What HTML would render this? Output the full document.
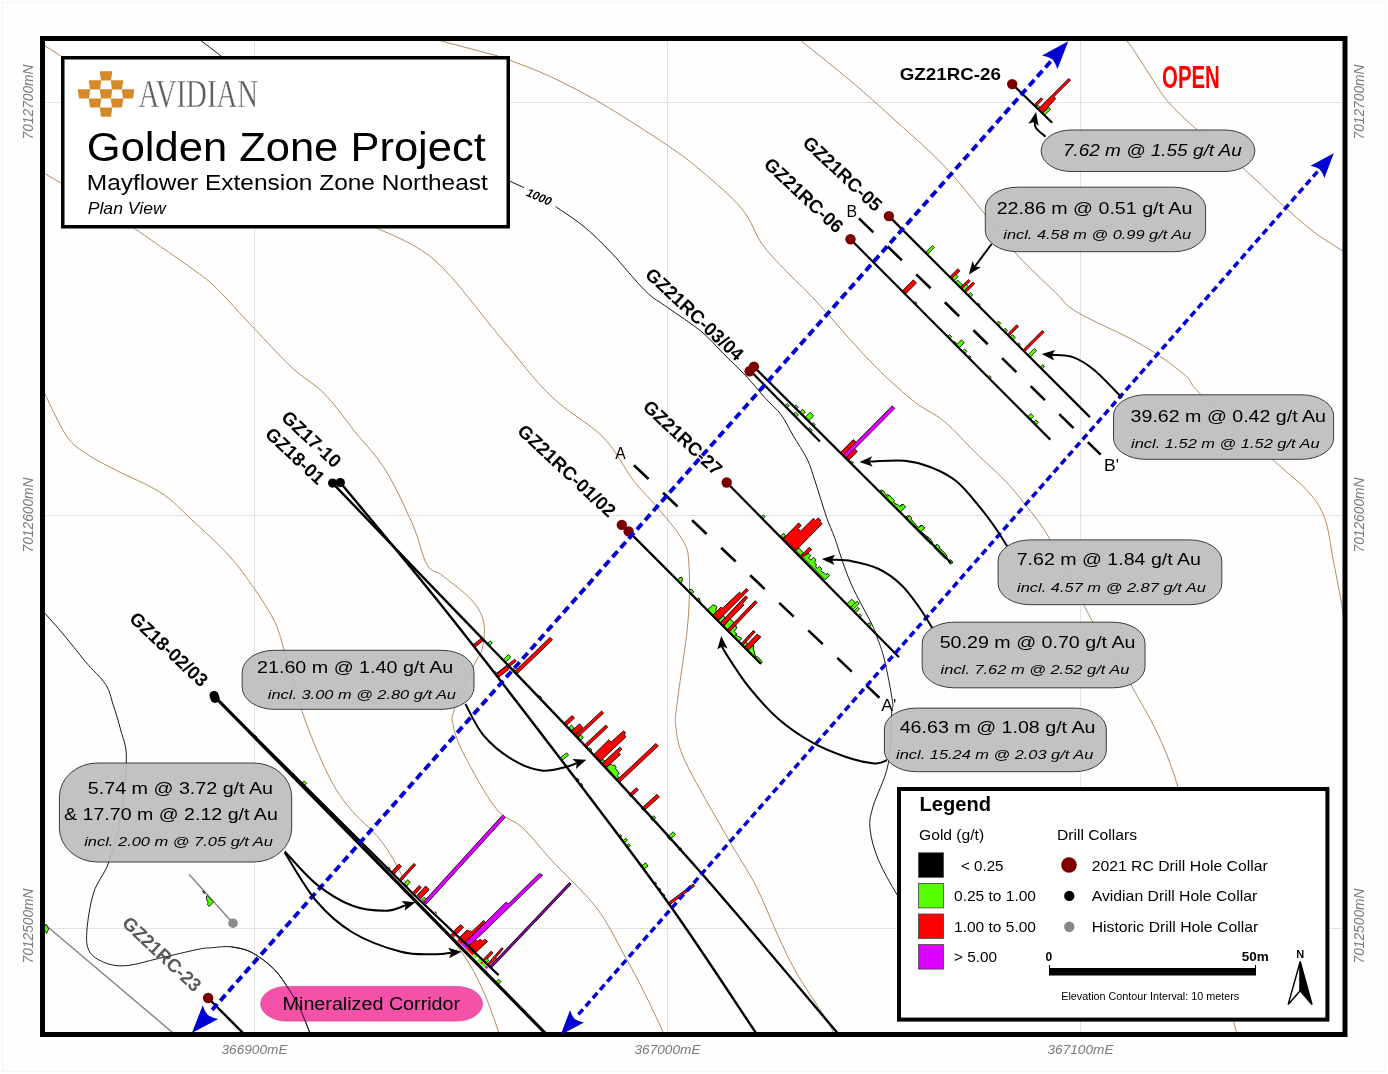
<!DOCTYPE html><html><head><meta charset="utf-8"><style>html,body{margin:0;padding:0;background:#fff;width:1388px;height:1074px;overflow:hidden}</style></head><body><svg width="1388" height="1074" viewBox="0 0 1388 1074" style="position:absolute;left:0;top:0;will-change:transform">
<rect x="0" y="0" width="1388" height="1074" fill="#fefefe"/>
<rect x="2.5" y="2.5" width="1383" height="1069" fill="none" stroke="#f4f4f4" stroke-width="1"/>
<defs><clipPath id="mapclip"><rect x="42" y="38" width="1303" height="997"/></clipPath></defs>
<g clip-path="url(#mapclip)">
<line x1="254.5" y1="36" x2="254.5" y2="1037" stroke="#e2e2e2" stroke-width="1"/>
<line x1="667.5" y1="36" x2="667.5" y2="1037" stroke="#e2e2e2" stroke-width="1"/>
<line x1="1080.5" y1="36" x2="1080.5" y2="1037" stroke="#e2e2e2" stroke-width="1"/>
<line x1="40" y1="102.5" x2="1347" y2="102.5" stroke="#e2e2e2" stroke-width="1"/>
<line x1="40" y1="515.5" x2="1347" y2="515.5" stroke="#e2e2e2" stroke-width="1"/>
<line x1="40" y1="928.5" x2="1347" y2="928.5" stroke="#e2e2e2" stroke-width="1"/>
<path d="M42.0,44.0 L61.0,56.0" stroke="#b38b62" stroke-width="1.0" fill="none" />
<path d="M374.5,227.0 C384.5,232.5 413.6,241.7 434.5,260.0 C455.4,278.3 480.7,314.2 500.0,336.8 C519.3,359.4 533.1,378.7 550.3,395.5 C567.5,412.3 589.5,423.3 603.3,437.4 C617.1,451.5 624.6,469.0 633.0,480.0 C641.4,491.0 645.6,493.5 653.9,503.5 C662.2,513.5 676.8,529.6 682.6,540.0 C688.5,550.4 688.1,552.1 689.0,566.0 C689.9,579.9 689.8,600.8 687.8,623.4 C685.8,646.0 679.3,684.2 677.3,701.6 C675.3,719.0 674.6,717.6 676.0,727.7 C677.4,737.8 677.1,744.0 685.7,762.4 C694.3,780.8 716.0,817.3 727.6,837.8 C739.2,858.3 747.2,869.0 755.6,885.3 C764.0,901.6 771.0,920.7 778.0,935.6 C785.0,950.5 789.1,960.3 797.5,974.7 C805.9,989.1 822.1,1012.0 828.2,1022.2 C834.3,1032.4 833.0,1033.7 834.0,1036.0" stroke="#b38b62" stroke-width="1.0" fill="none" />
<path d="M42.0,172.0 L61.0,183.0" stroke="#b38b62" stroke-width="1.0" fill="none" />
<path d="M133.3,227.7 C143.0,234.4 177.4,258.0 191.3,268.1 C205.2,278.2 206.0,278.2 216.5,288.3 C227.0,298.4 241.7,315.4 254.3,328.6 C266.9,341.8 280.3,356.8 292.1,367.7 C303.9,378.6 314.4,383.5 324.9,394.2 C335.4,404.9 345.1,419.4 355.2,432.0 C365.3,444.6 375.8,454.5 385.4,470.0 C395.0,485.5 406.0,509.2 412.9,525.0 C419.8,540.8 421.8,556.0 426.9,564.5 C431.9,573.0 435.8,570.3 443.2,576.2 C450.6,582.1 464.8,592.4 471.5,600.0 C478.2,607.6 481.8,613.7 483.6,621.8 C485.4,629.9 484.0,641.1 482.4,648.4 C480.8,655.6 478.5,655.2 473.9,665.3 C469.2,675.4 457.9,698.8 454.5,708.9 C451.1,719.0 451.7,718.1 453.3,725.8 C454.9,733.5 457.1,741.2 464.2,754.9 C471.3,768.6 486.0,796.0 495.7,808.1 C505.4,820.2 513.0,818.9 522.3,827.5 C531.6,836.1 539.0,846.6 551.3,860.0 C563.6,873.4 584.1,891.8 596.3,907.6 C608.5,923.5 616.4,941.1 624.3,955.1 C632.2,969.1 637.0,978.0 643.8,991.5 C650.6,1005.0 661.5,1028.6 665.0,1036.0" stroke="#b38b62" stroke-width="1.0" fill="none" />
<path d="M42.0,388.0 C46.1,396.0 58.9,424.7 66.5,435.8 C74.2,446.9 79.7,449.0 87.9,454.7 C96.1,460.4 103.4,463.6 115.6,470.0 C127.8,476.4 148.4,484.6 161.0,492.8 C173.6,501.0 180.0,508.8 191.3,519.3 C202.7,529.8 218.6,544.2 229.1,555.8 C239.6,567.3 246.7,577.7 254.3,588.6 C261.9,599.5 269.4,610.9 274.5,621.4 C279.6,631.9 279.5,635.2 284.6,651.6 C289.7,668.0 297.4,698.6 305.1,720.0 C312.8,741.4 322.9,764.8 330.8,780.0 C338.7,795.2 344.9,802.2 352.6,811.5 C360.3,820.8 370.0,827.6 376.8,835.7 C383.6,843.8 387.2,849.0 393.7,859.9 C400.1,870.8 409.4,891.7 415.5,901.0 C421.6,910.3 423.6,908.6 430.0,915.5 C436.4,922.4 446.9,932.8 454.2,942.1 C461.5,951.4 468.0,961.1 473.6,971.2 C479.2,981.3 483.7,991.9 488.1,1002.7 C492.5,1013.5 498.0,1030.5 500.0,1036.0" stroke="#b38b62" stroke-width="1.0" fill="none" />
<path d="M430.0,38.0 L498.0,56.0" stroke="#b38b62" stroke-width="1.0" fill="none" />
<path d="M510.0,60.3 C516.7,63.0 535.2,69.5 550.4,76.6 C565.5,83.7 581.6,91.8 600.9,103.1 C620.2,114.4 649.6,133.3 666.4,144.7 C683.2,156.0 689.1,160.5 701.7,171.2 C714.3,181.9 731.9,196.8 742.0,209.0 C752.1,221.2 754.7,233.9 762.2,244.3 C769.7,254.8 778.0,262.4 786.8,271.7 C795.6,281.0 801.3,285.3 815.0,300.0 C828.7,314.7 852.8,343.3 869.0,360.0 C885.2,376.7 899.6,389.8 912.1,400.0 C924.6,410.2 933.9,412.8 944.3,421.4 C954.7,430.0 964.3,441.6 974.3,451.4 C984.3,461.2 996.3,471.7 1004.3,480.0 C1012.3,488.3 1014.7,491.3 1022.2,501.0 C1029.7,510.7 1037.5,517.9 1049.3,538.2 C1061.1,558.5 1079.8,598.6 1093.3,622.9 C1106.8,647.2 1116.5,656.4 1130.6,683.8 C1144.7,711.2 1160.8,730.8 1178.0,787.1 C1195.2,843.4 1223.2,980.1 1233.7,1021.6 C1244.2,1063.1 1239.8,1033.6 1241.0,1036.0" stroke="#b38b62" stroke-width="1.0" fill="none" />
<path d="M795.0,36.0 C804.2,43.4 834.0,66.9 850.0,80.4 C866.0,93.9 875.9,102.9 891.3,116.9 C906.7,130.9 926.8,147.8 942.6,164.2 C958.4,180.6 974.1,201.0 986.0,215.5 C997.9,230.0 1002.1,238.1 1013.7,251.0 C1025.3,263.9 1045.1,282.6 1055.7,292.8 C1066.3,303.0 1063.0,303.6 1077.1,312.1 C1091.2,320.7 1122.7,333.7 1140.5,344.1 C1158.3,354.5 1174.0,365.9 1184.1,374.3 C1194.2,382.7 1185.8,379.9 1200.9,394.4 C1216.0,408.9 1256.7,445.2 1274.6,461.4 C1292.5,477.6 1299.7,482.1 1308.1,491.6 C1316.5,501.1 1320.6,507.0 1324.8,518.4 C1329.0,529.8 1330.3,545.1 1333.2,560.0 C1336.1,574.9 1340.2,594.3 1342.3,607.6 C1344.4,620.9 1345.4,634.6 1346.0,640.0" stroke="#b38b62" stroke-width="1.0" fill="none" />
<path d="M1114.0,36.0 C1116.1,36.7 1120.1,33.0 1126.6,40.4 C1133.1,47.8 1146.2,70.0 1153.2,80.4 C1160.2,90.8 1161.4,94.3 1168.8,102.6 C1176.2,110.9 1185.0,119.2 1197.6,130.3 C1210.2,141.4 1230.5,157.2 1244.2,169.2 C1257.9,181.2 1268.2,192.1 1279.7,202.4 C1291.2,212.8 1302.0,222.9 1313.0,231.3 C1324.0,239.7 1340.5,249.4 1346.0,253.0" stroke="#b38b62" stroke-width="1.0" fill="none" />
<path d="M195.0,36.0 L221.0,56.0" stroke="#1a1a1a" stroke-width="1.0" fill="none" />
<path d="M510.0,181.3 L524.0,187.6" stroke="#1a1a1a" stroke-width="1.0" fill="none" />
<path d="M555.5,206.5 C560.2,209.8 574.4,218.7 583.8,226.5 C593.2,234.3 601.5,242.4 611.7,253.1 C621.9,263.8 635.9,281.7 645.2,290.8 C654.5,299.9 658.3,300.8 667.6,307.5 C676.9,314.2 691.7,323.5 701.0,331.2 C710.3,338.9 716.0,346.2 723.4,353.6 C730.8,361.0 738.3,367.9 745.3,375.3 C752.3,382.8 759.4,391.7 765.4,398.3 C771.4,404.9 776.6,408.6 781.2,414.9 C785.9,421.2 789.0,428.5 793.3,435.9 C797.6,443.3 803.6,451.8 807.2,459.1 C810.8,466.5 812.4,473.2 814.7,480.0 C817.0,486.8 819.0,493.6 821.0,500.0 C823.0,506.4 824.8,512.4 827.0,518.6 C829.2,524.8 832.0,530.4 834.5,537.2 C837.0,544.0 839.4,552.5 841.9,559.6 C844.4,566.7 846.5,573.3 849.4,580.0 C852.2,586.7 855.2,592.6 859.0,600.0 C862.8,607.4 869.0,618.3 872.0,624.5 C875.0,630.7 874.9,631.2 877.0,637.1 C879.1,643.0 881.9,649.2 884.5,660.0 C887.1,670.8 891.3,692.7 892.5,701.6 C893.7,710.5 892.4,703.0 891.6,713.5 C890.9,724.0 891.1,749.2 888.0,764.8 C884.9,780.4 875.9,796.2 872.9,807.0 C869.9,817.8 869.2,820.5 870.1,829.4 C871.0,838.2 873.8,848.9 878.5,860.1 C883.2,871.3 891.2,884.9 898.1,896.5 C905.0,908.1 916.4,924.4 920.0,930.0" stroke="#1a1a1a" stroke-width="1.0" fill="none" />
<path d="M42.0,610.0 C45.9,614.4 58.0,627.9 65.2,636.5 C72.4,645.1 78.7,653.7 85.4,661.7 C92.1,669.7 101.0,677.2 105.6,684.4 C110.2,691.5 110.6,697.0 113.1,704.6 C115.6,712.2 118.5,721.0 120.7,730.0 C122.9,739.0 126.5,743.7 126.4,758.7 C126.3,773.7 123.0,802.6 120.0,820.0 C117.0,837.4 112.9,850.9 108.5,863.0 C104.1,875.1 97.2,881.3 93.6,892.8 C90.0,904.3 87.4,921.9 86.8,931.8 C86.2,941.7 86.6,947.1 90.0,952.4 C93.4,957.7 101.1,961.4 107.4,963.6 C113.7,965.8 119.4,966.4 128.0,965.5 C136.6,964.6 147.5,961.0 159.2,958.3 C170.8,955.6 189.1,951.2 197.9,949.4 C206.8,947.6 206.8,948.1 212.3,947.7 C217.8,947.3 224.5,946.0 231.1,946.8 C237.7,947.6 244.5,948.6 251.7,952.4 C258.9,956.1 267.9,963.0 274.2,969.3 C280.4,975.5 284.9,983.3 289.2,989.9 C293.5,996.5 296.4,1000.9 300.0,1008.6 C303.6,1016.3 309.2,1031.4 311.0,1036.0" stroke="#1a1a1a" stroke-width="1.0" fill="none" />
<text x="539" y="197" font-family='"Liberation Sans", sans-serif' font-size="12" font-weight="bold" font-style="italic" text-anchor="middle" transform="rotate(23 539.5 197)" dy="0.35em" textLength="26" lengthAdjust="spacingAndGlyphs">1000</text>
<path d="M42.0,922.0 L171.1,1031.3 L177.0,1036.0" stroke="#8a8a8a" stroke-width="1.5" fill="none" />
<path d="M233.0,923.2 L189.0,874.3" stroke="#8a8a8a" stroke-width="1.5" fill="none" />
<path d="M1034.3,104.6 L1041.2,97.7 L1042.9,99.4 L1036.0,106.2 Z" fill="#ff0000" stroke="#000" stroke-width="0.8"/>
<path d="M1036.0,106.2 L1038.0,105.2 L1039.8,106.9 L1037.8,108.6 Z" fill="#55ff00" stroke="#000" stroke-width="0.8"/>
<path d="M1038.6,108.6 L1068.6,78.6 L1070.6,80.1 L1054.2,96.5 L1055.6,98.8 L1042.9,112.9 Z" fill="#ff0000" stroke="#000" stroke-width="0.8"/>
<path d="M1042.9,112.9 L1049.0,107.2 L1050.4,109.2 L1044.7,115.0 Z" fill="#55ff00" stroke="#000" stroke-width="0.8"/>
<path d="M925.4,252.6 L927.3,254.5 L934.4,247.3 L932.6,245.5 Z" fill="#55ff00" stroke="#000" stroke-width="0.8" stroke-linejoin="miter"/>
<path d="M949.7,276.9 L951.9,279.1 L960.0,271.0 L957.8,268.8 Z" fill="#ff0000" stroke="#000" stroke-width="0.8" stroke-linejoin="miter"/>
<path d="M951.6,278.8 L953.7,280.9 L958.1,276.6 L955.9,274.4 Z" fill="#55ff00" stroke="#000" stroke-width="0.8" stroke-linejoin="miter"/>
<path d="M955.2,282.4 L960.1,287.3 L962.5,285.0 L957.5,280.0 Z" fill="#55ff00" stroke="#000" stroke-width="0.8" stroke-linejoin="miter"/>
<path d="M960.3,287.5 L962.1,289.3 L970.2,281.2 L968.4,279.4 Z" fill="#ff0000" stroke="#000" stroke-width="0.8" stroke-linejoin="miter"/>
<path d="M961.8,289.0 L963.9,291.1 L968.5,286.6 L966.3,284.4 Z" fill="#55ff00" stroke="#000" stroke-width="0.8" stroke-linejoin="miter"/>
<path d="M963.9,291.1 L965.6,292.8 L974.7,283.8 L972.9,282.0 Z" fill="#ff0000" stroke="#000" stroke-width="0.8" stroke-linejoin="miter"/>
<path d="M967.8,295.0 L970.2,297.4 L972.7,294.9 L970.3,292.5 Z" fill="#55ff00" stroke="#000" stroke-width="0.8" stroke-linejoin="miter"/>
<path d="M977.3,304.5 L979.0,306.2 L980.3,305.0 L978.5,303.2 Z" fill="#55ff00" stroke="#000" stroke-width="0.8" stroke-linejoin="miter"/>
<path d="M996.3,323.5 L998.5,325.7 L1000.8,323.4 L998.6,321.2 Z" fill="#55ff00" stroke="#000" stroke-width="0.8" stroke-linejoin="miter"/>
<path d="M1003.1,330.3 L1005.5,332.7 L1007.6,330.6 L1005.2,328.2 Z" fill="#55ff00" stroke="#000" stroke-width="0.8" stroke-linejoin="miter"/>
<path d="M1007.2,334.4 L1008.9,336.1 L1018.5,326.6 L1016.7,324.8 Z" fill="#ff0000" stroke="#000" stroke-width="0.8" stroke-linejoin="miter"/>
<path d="M1010.0,337.2 L1012.8,340.0 L1015.3,337.5 L1012.5,334.7 Z" fill="#55ff00" stroke="#000" stroke-width="0.8" stroke-linejoin="miter"/>
<path d="M1017.2,344.4 L1019.0,346.2 L1020.4,344.8 L1018.6,343.0 Z" fill="#55ff00" stroke="#000" stroke-width="0.8" stroke-linejoin="miter"/>
<path d="M1022.8,350.0 L1024.6,351.8 L1044.2,332.2 L1042.4,330.4 Z" fill="#ff0000" stroke="#000" stroke-width="0.8" stroke-linejoin="miter"/>
<path d="M1027.8,355.0 L1030.0,357.2 L1036.6,350.6 L1034.4,348.4 Z" fill="#55ff00" stroke="#000" stroke-width="0.8" stroke-linejoin="miter"/>
<path d="M1040.1,367.3 L1041.9,369.1 L1044.6,366.4 L1042.8,364.6 Z" fill="#55ff00" stroke="#000" stroke-width="0.8" stroke-linejoin="miter"/>
<path d="M902.1,291.0 L905.3,294.2 L916.5,283.0 L913.3,279.8 Z" fill="#ff0000" stroke="#000" stroke-width="0.8" stroke-linejoin="miter"/>
<path d="M913.8,302.7 L915.6,304.5 L916.9,303.2 L915.1,301.4 Z" fill="#55ff00" stroke="#000" stroke-width="0.8" stroke-linejoin="miter"/>
<path d="M947.5,336.6 L949.6,338.7 L951.7,336.7 L949.5,334.5 Z" fill="#55ff00" stroke="#000" stroke-width="0.8" stroke-linejoin="miter"/>
<path d="M953.4,342.4 L955.5,344.5 L956.7,343.4 L954.5,341.2 Z" fill="#55ff00" stroke="#000" stroke-width="0.8" stroke-linejoin="miter"/>
<path d="M956.1,345.2 L958.9,348.0 L964.3,342.6 L961.5,339.8 Z" fill="#55ff00" stroke="#000" stroke-width="0.8" stroke-linejoin="miter"/>
<path d="M962.2,351.2 L964.6,353.7 L966.9,351.4 L964.5,349.0 Z" fill="#55ff00" stroke="#000" stroke-width="0.8" stroke-linejoin="miter"/>
<path d="M967.8,356.9 L969.6,358.7 L971.1,357.2 L969.3,355.4 Z" fill="#55ff00" stroke="#000" stroke-width="0.8" stroke-linejoin="miter"/>
<path d="M987.9,377.0 L989.7,378.8 L991.2,377.3 L989.4,375.5 Z" fill="#55ff00" stroke="#000" stroke-width="0.8" stroke-linejoin="miter"/>
<path d="M1027.6,416.8 L1030.4,419.6 L1033.6,416.4 L1030.8,413.6 Z" fill="#55ff00" stroke="#000" stroke-width="0.8" stroke-linejoin="miter"/>
<path d="M1033.3,422.5 L1035.8,425.0 L1038.4,422.3 L1036.0,419.9 Z" fill="#55ff00" stroke="#000" stroke-width="0.8" stroke-linejoin="miter"/>
<path d="M794.0,406.7 L796.5,409.1 L798.2,407.3 L795.8,404.9 Z" fill="#55ff00" stroke="#000" stroke-width="0.8" stroke-linejoin="miter"/>
<path d="M799.6,412.3 L802.5,415.1 L805.4,412.1 L802.6,409.3 Z" fill="#55ff00" stroke="#000" stroke-width="0.8" stroke-linejoin="miter"/>
<path d="M804.9,417.5 L808.4,421.0 L813.7,415.8 L810.1,412.2 Z" fill="#55ff00" stroke="#000" stroke-width="0.8" stroke-linejoin="miter"/>
<path d="M811.7,424.2 L813.8,426.3 L815.3,424.9 L813.1,422.7 Z" fill="#55ff00" stroke="#000" stroke-width="0.8" stroke-linejoin="miter"/>
<path d="M849.9,462.3 L852.0,464.4 L853.5,463.0 L851.3,460.8 Z" fill="#55ff00" stroke="#000" stroke-width="0.8" stroke-linejoin="miter"/>
<path d="M879.4,491.6 L882.2,494.4 L884.2,492.4 L881.4,489.6 Z" fill="#55ff00" stroke="#000" stroke-width="0.8" stroke-linejoin="miter"/>
<path d="M884.9,497.0 L888.4,500.6 L891.1,497.9 L887.5,494.3 Z" fill="#55ff00" stroke="#000" stroke-width="0.8" stroke-linejoin="miter"/>
<path d="M893.6,505.7 L896.0,508.1 L898.0,506.1 L895.6,503.7 Z" fill="#55ff00" stroke="#000" stroke-width="0.8" stroke-linejoin="miter"/>
<path d="M896.9,509.0 L899.7,511.8 L904.7,506.8 L901.9,504.0 Z" fill="#55ff00" stroke="#000" stroke-width="0.8" stroke-linejoin="miter"/>
<path d="M905.5,517.5 L908.0,520.0 L910.1,517.8 L907.7,515.4 Z" fill="#55ff00" stroke="#000" stroke-width="0.8" stroke-linejoin="miter"/>
<path d="M910.8,522.8 L914.3,526.3 L915.8,524.9 L912.2,521.3 Z" fill="#55ff00" stroke="#000" stroke-width="0.8" stroke-linejoin="miter"/>
<path d="M916.9,528.9 L919.4,531.3 L923.1,527.5 L920.7,525.1 Z" fill="#55ff00" stroke="#000" stroke-width="0.8" stroke-linejoin="miter"/>
<path d="M925.6,537.5 L928.4,540.3 L929.8,538.9 L927.0,536.1 Z" fill="#55ff00" stroke="#000" stroke-width="0.8" stroke-linejoin="miter"/>
<path d="M934.4,546.3 L936.9,548.7 L938.9,546.6 L936.5,544.2 Z" fill="#55ff00" stroke="#000" stroke-width="0.8" stroke-linejoin="miter"/>
<path d="M941.0,552.9 L943.8,555.7 L945.2,554.3 L942.4,551.5 Z" fill="#55ff00" stroke="#000" stroke-width="0.8" stroke-linejoin="miter"/>
<path d="M949.7,561.5 L951.9,563.7 L952.8,562.8 L950.6,560.6 Z" fill="#55ff00" stroke="#000" stroke-width="0.8" stroke-linejoin="miter"/>
<path d="M840.3,452.7 L840.8,452.2 L853.3,439.6 L855.9,441.9 L853.9,444.1 L854.6,448.9 L857.3,451.6 L848.4,460.5 L848.3,460.6 Z" fill="#ff0000" stroke="#000" stroke-width="0.9"/>
<path d="M843.0,455.4 L845.6,458.0 L894.9,408.4 L892.3,405.8 Z" fill="#dd00ff" stroke="#000" stroke-width="0.8" stroke-linejoin="miter"/>
<path d="M784.9,405.9 L787.0,408.0 L789.3,405.8 L787.1,403.6 Z" fill="#55ff00" stroke="#000" stroke-width="0.8" stroke-linejoin="miter"/>
<path d="M793.2,414.4 L796.0,417.2 L798.4,414.9 L795.6,412.1 Z" fill="#55ff00" stroke="#000" stroke-width="0.8" stroke-linejoin="miter"/>
<path d="M807.8,429.2 L810.6,432.1 L812.4,430.3 L809.6,427.5 Z" fill="#55ff00" stroke="#000" stroke-width="0.8" stroke-linejoin="miter"/>
<path d="M677.2,580.0 L678.4,578.8 L681.2,577.0 L682.6,578.8 L681.6,582.1 L680.4,583.3 Z" fill="#55ff00" stroke="#000" stroke-width="0.9"/>
<path d="M688.1,591.0 L689.1,590.0 L691.4,589.1 L693.7,591.9 L691.9,593.7 L691.3,594.3 Z" fill="#55ff00" stroke="#000" stroke-width="0.9"/>
<path d="M696.6,599.7 L697.9,598.4 L698.9,597.9 L700.7,602.6 L700.1,603.2 Z" fill="#55ff00" stroke="#000" stroke-width="0.9"/>
<path d="M707.1,610.2 L707.7,609.6 L712.8,604.9 L715.6,605.8 L717.0,607.2 L715.6,610.0 L716.6,611.0 L713.3,615.2 L712.6,615.9 Z" fill="#55ff00" stroke="#000" stroke-width="0.9"/>
<path d="M712.6,615.9 L713.3,615.2 L720.7,607.2 L722.6,608.2 L739.4,592.3 L741.2,593.7 L746.4,588.6 L748.2,590.5 L722.1,616.6 L718.4,620.3 L717.7,621.0 Z" fill="#ff0000" stroke="#000" stroke-width="0.9"/>
<path d="M717.7,621.0 L718.4,620.3 L723.5,615.6 L724.9,617.5 L720.7,622.6 L720.0,623.3 Z" fill="#55ff00" stroke="#000" stroke-width="0.9"/>
<path d="M720.0,623.3 L720.7,622.6 L745.4,596.1 L747.7,597.5 L742.6,603.5 L744.0,604.9 L725.9,623.5 L724.0,625.9 L723.3,626.6 Z" fill="#ff0000" stroke="#000" stroke-width="0.9"/>
<path d="M723.3,626.6 L724.0,625.9 L729.6,619.3 L732.4,620.7 L735.2,625.4 L736.6,626.3 L726.8,629.6 L726.5,629.9 Z" fill="#55ff00" stroke="#000" stroke-width="0.9"/>
<path d="M726.8,630.1 L727.3,629.6 L755.2,600.7 L757.1,602.6 L729.6,631.5 L728.9,632.2 Z" fill="#ff0000" stroke="#000" stroke-width="0.9"/>
<path d="M728.9,632.2 L729.6,631.5 L735.2,625.9 L737.0,627.7 L734.2,631.5 L737.0,634.2 L735.2,635.2 L739.8,637.0 L741.7,638.4 L739.4,641.2 L738.6,642.0 Z" fill="#55ff00" stroke="#000" stroke-width="0.9"/>
<path d="M740.6,644.1 L741.7,643.1 L753.3,630.5 L755.2,631.9 L743.6,644.5 L742.3,645.8 Z" fill="#ff0000" stroke="#000" stroke-width="0.9"/>
<path d="M742.3,645.8 L743.6,644.5 L745.9,642.2 L747.7,643.6 L745.4,646.3 L744.1,647.6 Z" fill="#55ff00" stroke="#000" stroke-width="0.9"/>
<path d="M744.1,647.6 L745.4,646.3 L757.1,634.2 L760.8,637.0 L749.1,649.1 L747.3,650.9 Z" fill="#ff0000" stroke="#000" stroke-width="0.9"/>
<path d="M747.3,650.9 L749.1,649.1 L753.8,645.0 L753.3,649.1 L754.3,651.9 L755.7,657.1 L757.5,656.6 L762.2,661.7 L760.8,664.0 L760.6,664.2 Z" fill="#55ff00" stroke="#000" stroke-width="0.9"/>
<path d="M487.3,643.7 L489.4,645.9 L492.3,643.1 L490.3,640.9 Z" fill="#55ff00" stroke="#000" stroke-width="0.8" stroke-linejoin="miter"/>
<path d="M502.9,659.9 L505.3,662.4 L510.8,657.1 L508.4,654.5 Z" fill="#55ff00" stroke="#000" stroke-width="0.8" stroke-linejoin="miter"/>
<path d="M514.3,671.8 L516.7,674.3 L552.5,639.9 L550.1,637.3 Z" fill="#ff0000" stroke="#000" stroke-width="0.8" stroke-linejoin="miter"/>
<path d="M512.0,669.4 L514.1,671.6 L515.4,670.3 L513.4,668.1 Z" fill="#55ff00" stroke="#000" stroke-width="0.8" stroke-linejoin="miter"/>
<path d="M538.5,696.9 L540.6,699.1 L541.8,697.9 L539.8,695.7 Z" fill="#55ff00" stroke="#000" stroke-width="0.8" stroke-linejoin="miter"/>
<path d="M563.4,723.6 L565.8,726.2 L574.5,718.1 L572.1,715.5 Z" fill="#ff0000" stroke="#000" stroke-width="0.8" stroke-linejoin="miter"/>
<path d="M567.9,728.4 L570.6,731.3 L574.2,728.0 L571.4,725.0 Z" fill="#55ff00" stroke="#000" stroke-width="0.8" stroke-linejoin="miter"/>
<path d="M571.0,731.7 L574.4,735.4 L582.9,727.4 L579.5,723.8 Z" fill="#ff0000" stroke="#000" stroke-width="0.8" stroke-linejoin="miter"/>
<path d="M575.0,735.9 L577.0,738.1 L603.6,713.2 L601.6,711.0 Z" fill="#ff0000" stroke="#000" stroke-width="0.8" stroke-linejoin="miter"/>
<path d="M577.3,738.4 L579.7,741.0 L583.3,737.6 L580.9,735.0 Z" fill="#55ff00" stroke="#000" stroke-width="0.8" stroke-linejoin="miter"/>
<path d="M583.9,745.5 L586.0,747.7 L607.8,727.2 L605.8,725.0 Z" fill="#ff0000" stroke="#000" stroke-width="0.8" stroke-linejoin="miter"/>
<path d="M587.9,749.7 L590.0,751.9 L592.0,750.0 L590.0,747.8 Z" fill="#55ff00" stroke="#000" stroke-width="0.8" stroke-linejoin="miter"/>
<path d="M616.6,780.3 L619.0,782.9 L658.3,746.0 L655.9,743.4 Z" fill="#ff0000" stroke="#000" stroke-width="0.8" stroke-linejoin="miter"/>
<path d="M628.9,794.6 L630.9,796.8 L638.4,790.0 L636.4,787.8 Z" fill="#ff0000" stroke="#000" stroke-width="0.8" stroke-linejoin="miter"/>
<path d="M641.4,808.4 L643.8,811.0 L659.3,796.9 L656.9,794.3 Z" fill="#ff0000" stroke="#000" stroke-width="0.8" stroke-linejoin="miter"/>
<path d="M650.6,818.6 L652.6,820.8 L655.7,818.0 L653.7,815.8 Z" fill="#55ff00" stroke="#000" stroke-width="0.8" stroke-linejoin="miter"/>
<path d="M667.4,837.0 L669.7,839.6 L675.5,834.4 L673.1,831.8 Z" fill="#55ff00" stroke="#000" stroke-width="0.8" stroke-linejoin="miter"/>
<path d="M668.7,838.4 L670.4,840.3 L671.8,838.9 L670.2,837.1 Z" fill="#55ff00" stroke="#000" stroke-width="0.8" stroke-linejoin="miter"/>
<path d="M678.4,849.2 L679.8,850.7 L681.7,848.9 L680.3,847.5 Z" fill="#55ff00" stroke="#000" stroke-width="0.8" stroke-linejoin="miter"/>
<path d="M472.6,645.1 L474.5,647.5 L482.9,640.9 L481.1,638.5 Z" fill="#ff0000" stroke="#000" stroke-width="0.8" stroke-linejoin="miter"/>
<path d="M495.3,674.3 L496.9,676.3 L516.3,661.2 L514.7,659.2 Z" fill="#ff0000" stroke="#000" stroke-width="0.8" stroke-linejoin="miter"/>
<path d="M495.6,674.6 L498.0,677.8 L508.9,669.3 L506.5,666.1 Z" fill="#ff0000" stroke="#000" stroke-width="0.8" stroke-linejoin="miter"/>
<path d="M494.0,672.6 L495.5,674.5 L496.9,673.5 L495.3,671.5 Z" fill="#55ff00" stroke="#000" stroke-width="0.8" stroke-linejoin="miter"/>
<path d="M559.8,758.2 L561.6,760.6 L568.6,755.2 L566.8,752.8 Z" fill="#55ff00" stroke="#000" stroke-width="0.8" stroke-linejoin="miter"/>
<path d="M576.0,779.3 L577.6,781.3 L579.2,780.1 L577.6,778.1 Z" fill="#55ff00" stroke="#000" stroke-width="0.8" stroke-linejoin="miter"/>
<path d="M579.9,784.4 L581.5,786.4 L582.9,785.3 L581.3,783.3 Z" fill="#55ff00" stroke="#000" stroke-width="0.8" stroke-linejoin="miter"/>
<path d="M618.9,835.8 L620.1,837.4 L621.8,836.1 L620.6,834.5 Z" fill="#55ff00" stroke="#000" stroke-width="0.8" stroke-linejoin="miter"/>
<path d="M622.7,840.8 L624.2,842.8 L627.6,840.2 L626.0,838.2 Z" fill="#55ff00" stroke="#000" stroke-width="0.8" stroke-linejoin="miter"/>
<path d="M626.4,845.7 L627.9,847.7 L630.4,845.8 L628.8,843.8 Z" fill="#55ff00" stroke="#000" stroke-width="0.8" stroke-linejoin="miter"/>
<path d="M641.6,865.9 L644.0,869.1 L648.1,866.0 L645.7,862.8 Z" fill="#55ff00" stroke="#000" stroke-width="0.8" stroke-linejoin="miter"/>
<path d="M654.3,882.8 L655.5,884.3 L656.5,883.6 L655.3,882.0 Z" fill="#55ff00" stroke="#000" stroke-width="0.8" stroke-linejoin="miter"/>
<path d="M658.8,888.8 L660.0,890.4 L660.9,889.7 L659.7,888.1 Z" fill="#55ff00" stroke="#000" stroke-width="0.8" stroke-linejoin="miter"/>
<path d="M662.9,894.2 L664.1,895.8 L664.8,895.3 L663.6,893.7 Z" fill="#55ff00" stroke="#000" stroke-width="0.8" stroke-linejoin="miter"/>
<path d="M669.0,902.2 L670.5,904.2 L694.7,886.0 L693.1,884.0 Z" fill="#ff0000" stroke="#000" stroke-width="0.8" stroke-linejoin="miter"/>
<path d="M254.6,735.6 L256.4,737.4 L256.9,736.9 L255.1,735.1 Z" fill="#55ff00" stroke="#000" stroke-width="0.8" stroke-linejoin="miter"/>
<path d="M292.4,773.7 L293.8,775.1 L294.4,774.5 L293.0,773.1 Z" fill="#55ff00" stroke="#000" stroke-width="0.8" stroke-linejoin="miter"/>
<path d="M301.9,783.1 L304.3,785.6 L306.6,783.3 L304.2,780.9 Z" fill="#55ff00" stroke="#000" stroke-width="0.8" stroke-linejoin="miter"/>
<path d="M315.8,797.2 L317.2,798.6 L317.0,798.8 L315.6,797.4 Z" fill="#55ff00" stroke="#000" stroke-width="0.8" stroke-linejoin="miter"/>
<path d="M375.6,857.3 L377.8,859.5 L378.6,858.7 L376.4,856.5 Z" fill="#55ff00" stroke="#000" stroke-width="0.8" stroke-linejoin="miter"/>
<path d="M386.9,868.6 L388.3,870.0 L390.0,868.3 L388.6,866.9 Z" fill="#55ff00" stroke="#000" stroke-width="0.8" stroke-linejoin="miter"/>
<path d="M391.4,872.1 L394.0,874.4 L401.4,866.3 L398.8,863.9 Z" fill="#ff0000" stroke="#000" stroke-width="0.8" stroke-linejoin="miter"/>
<path d="M399.3,879.3 L401.2,881.0 L415.7,865.0 L413.9,863.4 Z" fill="#ff0000" stroke="#000" stroke-width="0.8" stroke-linejoin="miter"/>
<path d="M404.1,883.7 L406.7,886.0 L410.2,882.2 L407.6,879.8 Z" fill="#55ff00" stroke="#000" stroke-width="0.8" stroke-linejoin="miter"/>
<path d="M413.2,891.9 L415.4,894.0 L421.3,887.5 L419.1,885.5 Z" fill="#ff0000" stroke="#000" stroke-width="0.8" stroke-linejoin="miter"/>
<path d="M417.0,895.4 L420.7,898.8 L429.2,889.4 L425.6,886.0 Z" fill="#ff0000" stroke="#000" stroke-width="0.8" stroke-linejoin="miter"/>
<path d="M421.9,899.8 L424.8,902.5 L427.2,899.9 L424.2,897.3 Z" fill="#55ff00" stroke="#000" stroke-width="0.8" stroke-linejoin="miter"/>
<path d="M434.8,911.6 L436.6,913.3 L436.6,913.2 L434.8,911.6 Z" fill="#55ff00" stroke="#000" stroke-width="0.8" stroke-linejoin="miter"/>
<path d="M423.8,901.6 L426.4,904.0 L505.2,817.5 L502.6,815.1 Z" fill="#dd00ff" stroke="#000" stroke-width="0.8" stroke-linejoin="miter"/>
<path d="M453.8,931.3 L460.5,924.6 L463.5,927.2 L456.8,934.0 Z" fill="#ff0000" stroke="#000" stroke-width="0.8"/>
<path d="M459.7,937.3 L466.4,930.6 L467.9,930.2 L469.4,931.3 L470.2,930.6 L471.7,931.7 L483.6,920.5 L485.4,922.0 L465.7,942.1 Z" fill="#ff0000" stroke="#000" stroke-width="0.8"/>
<path d="M465.7,942.1 L505.9,902.3 L508.5,903.8 L539.2,873.6 L542.6,875.2 L469.5,945.7 Z" fill="#dd00ff" stroke="#000" stroke-width="0.8"/>
<path d="M469.0,945.5 L475.8,939.5 L477.2,941.4 L480.2,939.2 L482.5,941.0 L484.7,939.2 L487.7,941.4 L476.1,952.2 Z" fill="#ff0000" stroke="#000" stroke-width="0.8"/>
<path d="M482.7,960.0 L484.6,961.8 L493.0,952.9 L491.2,951.1 Z" fill="#ff0000" stroke="#000" stroke-width="0.8" stroke-linejoin="miter"/>
<path d="M487.7,963.7 L501.8,947.7 L503.3,948.8 L495.9,957.4 L496.6,958.2 L489.2,965.2 Z" fill="#ff0000" stroke="#000" stroke-width="0.8"/>
<path d="M489.7,966.6 L491.3,968.1 L571.1,884.1 L569.5,882.5 Z" fill="#9b00b4" stroke="#000" stroke-width="1.0" stroke-linejoin="miter"/>
<path d="M483.9,961.1 L486.1,963.2 L488.8,960.3 L486.6,958.3 Z" fill="#55ff00" stroke="#000" stroke-width="0.8" stroke-linejoin="miter"/>
<path d="M451.5,933.5 L454.8,936.5" stroke="#ff0000" stroke-width="2.6"/>
<path d="M458,939.5 L462.5,943.8" stroke="#ff0000" stroke-width="2.6"/>
<path d="M462.5,943.8 L466.8,948" stroke="#dd00ff" stroke-width="2.6"/>
<path d="M466.8,948 L473.5,954.5" stroke="#ff0000" stroke-width="2.6"/>
<path d="M473.5,954.5 L476.5,957.5" stroke="#55ff00" stroke-width="2.6"/>
<path d="M478,959.5 L481,962.3" stroke="#55ff00" stroke-width="2.6"/>
<path d="M481,962.3 L482.5,963.5" stroke="#ff0000" stroke-width="2.6"/>
<path d="M482.5,963.5 L485.5,966.5" stroke="#55ff00" stroke-width="2.6"/>
<path d="M485.5,966.5 L487.5,968.3" stroke="#dd00ff" stroke-width="2.6"/>
<path d="M495.4,982.4 L497.8,984.9 L501.1,981.6 L498.7,979.2 Z" fill="#55ff00" stroke="#000" stroke-width="0.8" stroke-linejoin="miter"/>
<path d="M206.6,895.9 L207.5,895.9 L213.5,901.8 L209.4,906.5 L207.3,904.4 L208.2,902.6 L206.9,900.7 L206.4,898.1 Z" fill="#55ff00" stroke="#000" stroke-width="0.8"/>
<path d="M202.5,891.4 L203.5,891.0 L205.0,892.8 L204.4,893.8 Z" fill="#55ff00" stroke="#000" stroke-width="0.8"/>
<path d="M43.0,927.5 L46.6,924.5 L48.6,929.2 L46.5,933.5 Z" fill="#55ff00" stroke="#000" stroke-width="0.8"/>
<path d="M880.2,493.2 L881.1,492.3 L882.7,490.5 L885.0,492.6 L885.0,493.5 L887.6,496.5 L889.2,495.1 L894.6,500.5 L893.4,502.3 L896.2,504.4 L897.3,504.2 L899.9,506.5 L902.9,504.2 L905.7,506.8 L900.4,512.1 L899.7,512.8 Z" fill="#55ff00" stroke="#000" stroke-width="0.9"/>
<path d="M906.0,519.2 L907.1,518.2 L909.2,515.4 L911.8,517.9 L911.3,519.6 L918.5,527.6 L922.0,525.2 L924.8,527.8 L921.1,531.5 L927.4,536.9 L929.0,537.6 L933.0,542.9 L931.2,544.7 Z" fill="#55ff00" stroke="#000" stroke-width="0.9"/>
<path d="M934.0,547.5 L935.3,546.2 L937.4,544.3 L939.9,546.7 L939.5,548.1 L944.6,552.7 L947.4,556.9 L945.3,558.9 Z" fill="#55ff00" stroke="#000" stroke-width="0.9"/>
<path d="M948.2,561.9 L949.7,560.4 L950.6,559.7 L952.7,562.0 L951.1,563.6 L950.5,564.2 Z" fill="#55ff00" stroke="#000" stroke-width="0.9"/>
<path d="M781.2,535.8 L781.9,535.1 L783.5,533.3 L785.6,535.8 L783.4,538.0 Z" fill="#55ff00" stroke="#000" stroke-width="0.9"/>
<path d="M783.6,538.3 L784.9,537.0 L798.6,523.0 L801.2,525.4 L798.2,528.6 L800.5,531.2 L813.3,518.4 L815.6,520.5 L818.4,518.1 L820.7,520.2 L820.0,521.4 L822.1,523.7 L797.9,548.4 L795.8,550.5 Z" fill="#ff0000" stroke="#000" stroke-width="0.9"/>
<path d="M795.7,550.4 L797.0,549.1 L798.9,548.2 L803.3,552.6 L802.1,554.2 L800.8,555.5 Z" fill="#55ff00" stroke="#000" stroke-width="0.9"/>
<path d="M801.0,555.6 L802.1,554.5 L809.3,547.2 L811.7,549.6 L804.2,556.8 L803.2,557.8 Z" fill="#ff0000" stroke="#000" stroke-width="0.9"/>
<path d="M802.6,557.2 L803.6,556.2 L808.7,553.4 L810.8,555.5 L808.5,558.0 L810.6,560.1 L813.4,557.3 L816.0,559.7 L814.6,562.5 L816.4,564.6 L815.7,566.9 L817.3,568.3 L819.4,566.4 L821.8,568.7 L820.6,570.8 L823.0,572.5 L824.3,572.9 L826.0,574.6 L827.6,573.2 L829.7,575.5 L825.5,579.5 L825.2,579.8 Z" fill="#55ff00" stroke="#000" stroke-width="0.9"/>
<path d="M761.0,517.2 L762.7,519.0 L765.1,516.7 L763.3,514.9 Z" fill="#55ff00" stroke="#000" stroke-width="0.8" stroke-linejoin="miter"/>
<path d="M846.7,604.2 L850.2,607.8 L855.3,602.8 L851.7,599.2 Z" fill="#55ff00" stroke="#000" stroke-width="0.8" stroke-linejoin="miter"/>
<path d="M850.3,607.9 L852.4,610.0 L859.2,603.4 L857.0,601.2 Z" fill="#55ff00" stroke="#000" stroke-width="0.8" stroke-linejoin="miter"/>
<path d="M853.6,611.3 L855.4,613.0 L859.5,609.0 L857.7,607.2 Z" fill="#55ff00" stroke="#000" stroke-width="0.8" stroke-linejoin="miter"/>
<path d="M858.0,615.7 L859.8,617.5 L861.6,615.7 L859.8,613.9 Z" fill="#55ff00" stroke="#000" stroke-width="0.8" stroke-linejoin="miter"/>
<path d="M867.0,624.8 L869.1,626.9 L871.4,624.7 L869.2,622.5 Z" fill="#55ff00" stroke="#000" stroke-width="0.8" stroke-linejoin="miter"/>
<path d="M593.2,755.2 L594.0,754.4 L608.6,740.0 L611.2,741.9 L623.5,730.9 L625.6,732.8 L624.4,734.4 L625.8,737.0 L600.9,760.5 L599.5,761.9 Z" fill="#ff0000" stroke="#000" stroke-width="0.9"/>
<path d="M599.5,761.9 L600.9,760.5 L603.5,759.6 L604.6,761.0 L601.5,764.0 Z" fill="#55ff00" stroke="#000" stroke-width="0.9"/>
<path d="M601.6,764.1 L602.6,763.1 L619.8,747.2 L621.9,749.1 L618.4,752.8 L620.5,754.4 L606.8,767.2 L605.6,768.3 Z" fill="#ff0000" stroke="#000" stroke-width="0.9"/>
<path d="M605.6,768.3 L606.8,767.2 L610.7,764.0 L612.8,765.4 L614.7,765.1 L616.1,767.2 L615.6,768.6 L619.1,773.3 L617.5,775.6 L618.6,777.5 L616.4,779.6 Z" fill="#55ff00" stroke="#000" stroke-width="0.9"/>
<path d="M1012.2,84.1 L1052.2,122.7" stroke="#000" stroke-width="2.2" fill="none" stroke-linecap="butt"/>
<path d="M888.9,216.1 L1089.9,417.1" stroke="#000" stroke-width="2.2" fill="none" stroke-linecap="butt"/>
<path d="M850.5,239.3 L1050.3,439.6" stroke="#000" stroke-width="2.2" fill="none" stroke-linecap="butt"/>
<path d="M749.8,370.2 L819.9,441.5" stroke="#000" stroke-width="2.2" fill="none" stroke-linecap="butt"/>
<path d="M754.3,367.2 L951.0,562.8" stroke="#000" stroke-width="2.2" fill="none" stroke-linecap="butt"/>
<path d="M726.7,482.5 L899.0,657.3" stroke="#000" stroke-width="2.2" fill="none" stroke-linecap="butt"/>
<path d="M628.6,531.4 L760.8,663.8" stroke="#000" stroke-width="2.2" fill="none" stroke-linecap="butt"/>
<path d="M332.6,483.1 C351.7,503.0 406.1,559.6 447.3,602.4 C488.5,645.2 537.5,695.2 579.6,740.0 C621.7,784.8 656.3,822.0 699.7,871.3 C743.1,920.6 816.6,1008.5 840.0,1036.0" stroke="#000" stroke-width="2.4" fill="none" stroke-linecap="butt"/>
<path d="M340.3,482.6 C356.9,502.8 403.4,557.7 440.0,603.6 C476.6,649.5 522.1,708.5 560.0,758.2 C597.9,807.9 634.6,855.7 667.6,902.0 C700.6,948.3 742.9,1013.7 758.0,1036.0" stroke="#000" stroke-width="2.4" fill="none" stroke-linecap="butt"/>
<path d="M214.5,696.5 L548.0,1036.0" stroke="#000" stroke-width="3.2" fill="none" stroke-linecap="butt"/>
<path d="M214.5,696.5 L419.0,899.5 L498.6,975.1" stroke="#000" stroke-width="2.2" fill="none" stroke-linecap="butt"/>
<path d="M208.1,998.0 L246.0,1036.0" stroke="#000" stroke-width="2.4" fill="none" stroke-linecap="butt"/>
<path d="M634,465.3 L879.4,697.7" stroke="#000" stroke-width="2.6" stroke-dasharray="20 20" fill="none"/>
<path d="M859,218.4 L1100.7,454.6" stroke="#000" stroke-width="2.6" stroke-dasharray="20 20" fill="none"/>
<text x="620.6" y="458.5" font-family='"Liberation Sans", sans-serif' font-size="15.8" text-anchor="middle" textLength="10.5" lengthAdjust="spacingAndGlyphs">A</text>
<text x="888.8" y="711.2" font-family='"Liberation Sans", sans-serif' font-size="15.8" text-anchor="middle" textLength="15" lengthAdjust="spacingAndGlyphs">A'</text>
<text x="851.8" y="216.5" font-family='"Liberation Sans", sans-serif' font-size="15.8" text-anchor="middle" textLength="10.6" lengthAdjust="spacingAndGlyphs">B</text>
<text x="1111.5" y="470.5" font-family='"Liberation Sans", sans-serif' font-size="15.8" text-anchor="middle" textLength="15" lengthAdjust="spacingAndGlyphs">B'</text>
<circle cx="1012.2" cy="84.1" r="5.2" fill="#7d0000"/>
<circle cx="888.9" cy="216.1" r="5.2" fill="#7d0000"/>
<circle cx="850.5" cy="239.3" r="5.2" fill="#7d0000"/>
<circle cx="749.6" cy="371.2" r="5.2" fill="#7d0000"/>
<circle cx="753.9" cy="366.6" r="5.2" fill="#7d0000"/>
<circle cx="726.7" cy="482.5" r="5.2" fill="#7d0000"/>
<circle cx="621.8" cy="524.9" r="5.2" fill="#7d0000"/>
<circle cx="628.6" cy="531.4" r="5.2" fill="#7d0000"/>
<circle cx="208.1" cy="998" r="5.2" fill="#7d0000"/>
<circle cx="332.6" cy="483.1" r="4.6" fill="#000"/>
<circle cx="340.3" cy="482.6" r="4.6" fill="#000"/>
<circle cx="214.1" cy="695.6" r="4.6" fill="#000"/>
<circle cx="215" cy="698.3" r="4.6" fill="#000"/>
<circle cx="233" cy="923.2" r="4.8" fill="#8a8a8a"/>
<path d="M1050.58,61.58 L1045.42,67.42 M1042.41,70.82 L1037.25,76.66 M1034.24,80.06 L1029.08,85.90 M1026.07,89.30 L1020.91,95.14 M1017.90,98.54 L1012.74,104.38 M1009.74,107.78 L1004.57,113.62 M1001.57,117.02 L996.40,122.86 M993.40,126.26 L988.23,132.10 M985.23,135.50 L980.06,141.34 M977.06,144.74 L971.89,150.58 M968.89,153.98 L963.72,159.82 M960.72,163.22 L955.55,169.06 M952.55,172.46 L947.38,178.30 M944.38,181.70 L939.21,187.54 M936.21,190.94 L931.04,196.78 M928.04,200.18 L922.87,206.02 M919.87,209.42 L914.70,215.26 M911.70,218.66 L906.53,224.51 M903.53,227.90 L898.36,233.75 M895.36,237.14 L890.19,242.99 M887.19,246.38 L882.02,252.23 M879.02,255.62 L873.85,261.47 M870.85,264.86 L865.69,270.71 M862.68,274.10 L857.52,279.95 M854.51,283.34 L849.35,289.19 M846.34,292.58 L841.18,298.43 M838.17,301.82 L833.01,307.67 M830.00,311.06 L824.84,316.91 M821.83,320.30 L816.67,326.15 M813.66,329.54 L808.50,335.39 M805.50,338.78 L800.33,344.63 M797.33,348.02 L792.16,353.87 M789.16,357.26 L783.99,363.11 M780.99,366.50 L775.82,372.35 M772.82,375.74 L767.65,381.59 M764.65,384.99 L759.48,390.83 M756.48,394.23 L751.31,400.07 M748.31,403.47 L743.14,409.31 M740.14,412.71 L734.97,418.55 M731.97,421.95 L726.80,427.79 M723.80,431.19 L718.63,437.03 M715.63,440.43 L710.46,446.27 M707.46,449.67 L702.29,455.51 M699.29,458.91 L694.12,464.75 M691.12,468.15 L685.95,473.99 M682.95,477.39 L677.78,483.23 M674.78,486.63 L669.61,492.47 M666.61,495.87 L661.45,501.71 M658.44,505.11 L653.28,510.95 M650.27,514.35 L645.11,520.19 M642.10,523.59 L636.94,529.43 M633.93,532.83 L628.77,538.67 M625.76,542.07 L620.60,547.91 M617.59,551.31 L612.43,557.15 M609.42,560.55 L604.26,566.39 M601.25,569.79 L596.09,575.63 M593.09,579.03 L587.92,584.87 M584.92,588.27 L579.75,594.11 M576.75,597.51 L571.58,603.35 M568.58,606.75 L563.41,612.59 M560.41,615.99 L555.24,621.83 M552.24,625.23 L547.07,631.07 M544.07,634.47 L538.90,640.31 M535.90,643.71 L530.73,649.55 M527.73,652.95 L522.56,658.79 M519.56,662.19 L514.39,668.03 M511.39,671.43 L506.22,677.27 M503.22,680.67 L498.05,686.51 M495.05,689.91 L489.88,695.76 M486.88,699.15 L481.71,705.00 M478.71,708.39 L473.54,714.24 M470.54,717.63 L465.37,723.48 M462.37,726.87 L457.20,732.72 M454.20,736.11 L449.04,741.96 M446.03,745.35 L440.87,751.20 M437.86,754.59 L432.70,760.44 M429.69,763.83 L424.53,769.68 M421.52,773.07 L416.36,778.92 M413.35,782.31 L408.19,788.16 M405.18,791.55 L400.02,797.40 M397.01,800.79 L391.85,806.64 M388.85,810.03 L383.68,815.88 M380.68,819.27 L375.51,825.12 M372.51,828.51 L367.34,834.36 M364.34,837.75 L359.17,843.60 M356.17,846.99 L351.00,852.84 M348.00,856.24 L342.83,862.08 M339.83,865.48 L334.66,871.32 M331.66,874.72 L326.49,880.56 M323.49,883.96 L318.32,889.80 M315.32,893.20 L310.15,899.04 M307.15,902.44 L301.98,908.28 M298.98,911.68 L293.81,917.52 M290.81,920.92 L285.64,926.76 M282.64,930.16 L277.47,936.00 M274.47,939.40 L269.30,945.24 M266.30,948.64 L261.13,954.48 M258.13,957.88 L252.96,963.72 M249.96,967.12 L244.80,972.96 M241.79,976.36 L236.63,982.20 M233.62,985.60 L228.46,991.44 M225.45,994.84 L220.29,1000.68 M217.28,1004.08 L212.12,1009.92 " stroke="#0000d4" stroke-width="3.9" fill="none"/>
<path d="M1317.54,171.54 L1313.06,176.66 M1310.34,179.76 L1305.86,184.87 M1303.14,187.97 L1298.65,193.08 M1295.94,196.18 L1291.45,201.30 M1288.73,204.40 L1284.25,209.51 M1281.53,212.61 L1277.05,217.73 M1274.33,220.83 L1269.85,225.94 M1267.13,229.04 L1262.64,234.15 M1259.93,237.25 L1255.44,242.37 M1252.72,245.47 L1248.24,250.58 M1245.52,253.68 L1241.04,258.79 M1238.32,261.89 L1233.84,267.01 M1231.12,270.11 L1226.63,275.22 M1223.92,278.32 L1219.43,283.43 M1216.71,286.54 L1212.23,291.65 M1209.51,294.75 L1205.03,299.86 M1202.31,302.96 L1197.83,308.08 M1195.11,311.18 L1190.63,316.29 M1187.91,319.39 L1183.42,324.50 M1180.70,327.60 L1176.22,332.72 M1173.50,335.82 L1169.02,340.93 M1166.30,344.03 L1161.82,349.14 M1159.10,352.25 L1154.62,357.36 M1151.90,360.46 L1147.41,365.57 M1144.69,368.67 L1140.21,373.79 M1137.49,376.89 L1133.01,382.00 M1130.29,385.10 L1125.81,390.21 M1123.09,393.31 L1118.61,398.43 M1115.89,401.53 L1111.40,406.64 M1108.68,409.74 L1104.20,414.85 M1101.48,417.96 L1097.00,423.07 M1094.28,426.17 L1089.80,431.28 M1087.08,434.38 L1082.60,439.50 M1079.88,442.60 L1075.39,447.71 M1072.67,450.81 L1068.19,455.92 M1065.47,459.02 L1060.99,464.14 M1058.27,467.24 L1053.79,472.35 M1051.07,475.45 L1046.59,480.56 M1043.87,483.67 L1039.38,488.78 M1036.67,491.88 L1032.18,496.99 M1029.46,500.09 L1024.98,505.21 M1022.26,508.31 L1017.78,513.42 M1015.06,516.52 L1010.58,521.63 M1007.86,524.73 L1003.37,529.85 M1000.66,532.95 L996.17,538.06 M993.45,541.16 L988.97,546.27 M986.25,549.37 L981.77,554.49 M979.05,557.59 L974.57,562.70 M971.85,565.80 L967.36,570.92 M964.65,574.02 L960.16,579.13 M957.44,582.23 L952.96,587.34 M950.24,590.44 L945.76,595.56 M943.04,598.66 L938.56,603.77 M935.84,606.87 L931.35,611.98 M928.64,615.08 L924.15,620.20 M921.43,623.30 L916.95,628.41 M914.23,631.51 L909.75,636.63 M907.03,639.73 L902.55,644.84 M899.83,647.94 L895.34,653.05 M892.63,656.15 L888.14,661.27 M885.42,664.37 L880.94,669.48 M878.22,672.58 L873.74,677.69 M871.02,680.79 L866.54,685.91 M863.82,689.01 L859.33,694.12 M856.62,697.22 L852.13,702.33 M849.41,705.44 L844.93,710.55 M842.21,713.65 L837.73,718.76 M835.01,721.86 L830.53,726.98 M827.81,730.08 L823.33,735.19 M820.61,738.29 L816.12,743.40 M813.40,746.50 L808.92,751.62 M806.20,754.72 L801.72,759.83 M799.00,762.93 L794.52,768.04 M791.80,771.15 L787.32,776.26 M784.60,779.36 L780.11,784.47 M777.39,787.57 L772.91,792.69 M770.19,795.79 L765.71,800.90 M762.99,804.00 L758.51,809.11 M755.79,812.21 L751.31,817.33 M748.59,820.43 L744.10,825.54 M741.38,828.64 L736.90,833.75 M734.18,836.86 L729.70,841.97 M726.98,845.07 L722.50,850.18 M719.78,853.28 L715.30,858.40 M712.58,861.50 L708.09,866.61 M705.37,869.71 L700.89,874.82 M698.17,877.92 L693.69,883.04 M690.97,886.14 L686.49,891.25 M683.77,894.35 L679.29,899.46 M676.57,902.57 L672.08,907.68 M669.37,910.78 L664.88,915.89 M662.16,918.99 L657.68,924.11 M654.96,927.21 L650.48,932.32 M647.76,935.42 L643.28,940.53 M640.56,943.63 L636.07,948.75 M633.36,951.85 L628.87,956.96 M626.15,960.06 L621.67,965.17 M618.95,968.27 L614.47,973.39 M611.75,976.49 L607.27,981.60 M604.55,984.70 L600.06,989.82 M597.35,992.92 L592.86,998.03 M590.14,1001.13 L585.66,1006.24 M582.94,1009.34 L578.46,1014.46 " stroke="#0000d4" stroke-width="3.5" fill="none"/>
<text x="899.8" y="79.6" font-family='"Liberation Sans", sans-serif' font-size="17" font-weight="bold" textLength="101" lengthAdjust="spacingAndGlyphs">GZ21RC-26</text>
<text x="0" y="0" dy="0.36em" font-family='"Liberation Sans", sans-serif' font-size="18.6" font-weight="bold" fill="#000" text-anchor="middle" transform="translate(842.7 173.4) rotate(43)">GZ21RC-05</text>
<text x="0" y="0" dy="0.36em" font-family='"Liberation Sans", sans-serif' font-size="18.6" font-weight="bold" fill="#000" text-anchor="middle" transform="translate(804 195) rotate(43)">GZ21RC-06</text>
<text x="0" y="0" dy="0.36em" font-family='"Liberation Sans", sans-serif' font-size="18.6" font-weight="bold" fill="#000" text-anchor="middle" transform="translate(694.8 314) rotate(43)">GZ21RC-03/04</text>
<text x="0" y="0" dy="0.36em" font-family='"Liberation Sans", sans-serif' font-size="18.6" font-weight="bold" fill="#000" text-anchor="middle" transform="translate(682.9 437.4) rotate(43)">GZ21RC-27</text>
<text x="0" y="0" dy="0.36em" font-family='"Liberation Sans", sans-serif' font-size="18.6" font-weight="bold" fill="#000" text-anchor="middle" transform="translate(567 470.5) rotate(43)">GZ21RC-01/02</text>
<text x="0" y="0" dy="0.36em" font-family='"Liberation Sans", sans-serif' font-size="18.6" font-weight="bold" fill="#000" text-anchor="middle" transform="translate(311.7 438.9) rotate(43)">GZ17-10</text>
<text x="0" y="0" dy="0.36em" font-family='"Liberation Sans", sans-serif' font-size="18.6" font-weight="bold" fill="#000" text-anchor="middle" transform="translate(295.4 455.6) rotate(43)">GZ18-01</text>
<text x="0" y="0" dy="0.36em" font-family='"Liberation Sans", sans-serif' font-size="18.6" font-weight="bold" fill="#000" text-anchor="middle" transform="translate(169 649) rotate(43)">GZ18-02/03</text>
<text x="0" y="0" dy="0.36em" font-family='"Liberation Sans", sans-serif' font-size="18.6" font-weight="bold" fill="#5a5a5a" text-anchor="middle" transform="translate(162.1 953.8) rotate(43)">GZ21RC-23</text>
<path d="M1036.1,112.1 L1038.6,125.9 L1034.1,122.0 L1028.4,123.8 Z" fill="#000"/>
<path d="M1045.6,136.7 C1044.0,135.2 1037.8,130.8 1036.0,128.0 C1034.2,125.2 1034.8,121.0 1034.5,120.0 C1034.2,119.0 1034.2,121.7 1034.1,122.0" stroke="#000" stroke-width="2" fill="none" />
<path d="M968.9,274.6 L972.5,261.1 L974.9,266.5 L980.8,267.3 Z" fill="#000"/>
<path d="M991.6,244.0 L974.9,266.5" stroke="#000" stroke-width="2" fill="none" />
<path d="M1041.7,353.9 L1055.2,350.1 L1051.8,354.9 L1054.1,360.4 Z" fill="#000"/>
<path d="M1122.1,397.8 C1117.4,393.2 1102.4,376.8 1094.2,370.0 C1086.0,363.2 1079.9,359.6 1072.8,357.1 C1065.7,354.6 1055.3,355.3 1051.8,354.9" stroke="#000" stroke-width="2" fill="none" />
<path d="M859.4,462.0 L872.1,456.2 L869.5,461.5 L872.6,466.6 Z" fill="#000"/>
<path d="M1007.3,546.4 C1005.3,543.4 1000.1,534.7 995.6,528.2 C991.1,521.7 986.5,515.2 980.0,507.4 C973.5,499.6 964.9,488.2 956.7,481.5 C948.5,474.8 939.4,470.6 930.8,467.2 C922.1,463.8 914.5,461.8 904.8,460.8 C895.1,459.8 878.3,461.3 872.4,461.4 C866.5,461.5 870.0,461.5 869.5,461.5" stroke="#000" stroke-width="2" fill="none" />
<path d="M821.8,559.0 L835.1,554.8 L831.9,559.7 L834.4,565.1 Z" fill="#000"/>
<path d="M932.4,628.3 C930.2,624.8 924.2,614.3 919.0,607.0 C913.8,599.7 907.8,591.0 901.1,584.7 C894.4,578.4 887.0,572.9 878.8,569.0 C870.6,565.1 859.8,562.7 852.0,561.2 C844.2,559.7 835.3,560.0 831.9,559.7" stroke="#000" stroke-width="2" fill="none" />
<path d="M721.2,636.1 L727.6,648.5 L722.2,646.2 L717.3,649.5 Z" fill="#000"/>
<path d="M887.0,760.2 C884.9,760.7 881.2,764.0 874.3,763.4 C867.3,762.8 855.7,760.2 845.3,756.7 C834.9,753.2 822.9,748.5 811.7,742.2 C800.5,735.9 788.6,727.9 778.2,718.8 C767.8,709.7 757.4,697.6 749.2,687.5 C741.0,677.4 733.5,665.1 729.0,658.4 C724.5,651.7 723.4,649.3 722.3,647.3 C721.2,645.3 722.2,646.4 722.2,646.2" stroke="#000" stroke-width="2" fill="none" />
<path d="M586.4,759.7 L575.9,768.9 L576.8,763.1 L572.4,759.1 Z" fill="#000"/>
<path d="M465.4,704.0 C468.4,709.2 475.7,726.2 483.6,735.5 C491.5,744.8 502.9,753.9 512.6,759.7 C522.3,765.6 532.7,769.4 541.6,770.6 C550.5,771.8 559.9,768.3 565.8,767.0 C571.7,765.7 575.0,763.7 576.8,763.1" stroke="#000" stroke-width="2" fill="none" />
<path d="M415.5,902.2 L404.5,910.8 L405.8,905.1 L401.6,900.9 Z" fill="#000"/>
<path d="M284.8,851.4 C290.1,856.9 305.0,875.0 316.3,884.1 C327.6,893.2 340.9,901.4 352.6,905.8 C364.3,910.2 377.6,910.8 386.5,910.7 C395.4,910.6 402.6,906.0 405.8,905.1" stroke="#000" stroke-width="2" fill="none" />
<path d="M461.5,951.8 L449.0,958.2 L451.4,952.7 L448.1,947.8 Z" fill="#000"/>
<path d="M284.8,852.6 C290.1,860.7 305.0,887.7 316.3,901.0 C327.6,914.3 338.5,924.0 352.6,932.5 C366.7,941.0 387.3,948.2 401.0,951.8 C414.7,955.4 426.5,954.1 434.9,954.3 C443.3,954.5 448.7,953.0 451.4,952.7" stroke="#000" stroke-width="2" fill="none" />
<rect x="1041.2" y="130" width="213.6" height="41.5" rx="30" ry="20.5" fill="#bdbdbd" fill-opacity="0.93" stroke="#3c3c3c" stroke-width="1"/>
<text x="1062.9" y="155.8" font-family='"Liberation Sans", sans-serif' font-size="16" font-style="italic" fill="#000" textLength="178.9" lengthAdjust="spacingAndGlyphs">7.62 m @ 1.55 g/t Au</text>
<rect x="985.3" y="187.2" width="220.3" height="64.5" rx="32" ry="21" fill="#bdbdbd" fill-opacity="0.93" stroke="#3c3c3c" stroke-width="1"/>
<text x="996.7" y="213.9" font-family='"Liberation Sans", sans-serif' font-size="17" font-style="normal" fill="#000" textLength="195.7" lengthAdjust="spacingAndGlyphs">22.86 m @ 0.51 g/t Au</text>
<text x="1003.3" y="239.4" font-family='"Liberation Sans", sans-serif' font-size="13" font-style="italic" fill="#000" textLength="187.9" lengthAdjust="spacingAndGlyphs">incl. 4.58 m @ 0.99 g/t Au</text>
<rect x="1113.5" y="394.8" width="220.1" height="64.5" rx="32" ry="21" fill="#bdbdbd" fill-opacity="0.93" stroke="#3c3c3c" stroke-width="1"/>
<text x="1130.6" y="421.8" font-family='"Liberation Sans", sans-serif' font-size="17" font-style="normal" fill="#000" textLength="195.4" lengthAdjust="spacingAndGlyphs">39.62 m @ 0.42 g/t Au</text>
<text x="1131" y="448" font-family='"Liberation Sans", sans-serif' font-size="13" font-style="italic" fill="#000" textLength="188.7" lengthAdjust="spacingAndGlyphs">incl. 1.52 m @ 1.52 g/t Au</text>
<rect x="998.1" y="539.9" width="223.7" height="64.8" rx="32" ry="21" fill="#bdbdbd" fill-opacity="0.93" stroke="#3c3c3c" stroke-width="1"/>
<text x="1016.7" y="565.1" font-family='"Liberation Sans", sans-serif' font-size="17" font-style="normal" fill="#000" textLength="184.3" lengthAdjust="spacingAndGlyphs">7.62 m @ 1.84 g/t Au</text>
<text x="1017" y="591.6" font-family='"Liberation Sans", sans-serif' font-size="13" font-style="italic" fill="#000" textLength="188.8" lengthAdjust="spacingAndGlyphs">incl. 4.57 m @ 2.87 g/t Au</text>
<rect x="922.2" y="622.2" width="222.8" height="65.6" rx="32" ry="21" fill="#bdbdbd" fill-opacity="0.93" stroke="#3c3c3c" stroke-width="1"/>
<text x="939.7" y="647.8" font-family='"Liberation Sans", sans-serif' font-size="17" font-style="normal" fill="#000" textLength="195.8" lengthAdjust="spacingAndGlyphs">50.29 m @ 0.70 g/t Au</text>
<text x="940.6" y="673.9" font-family='"Liberation Sans", sans-serif' font-size="13" font-style="italic" fill="#000" textLength="188.8" lengthAdjust="spacingAndGlyphs">incl. 7.62 m @ 2.52 g/t Au</text>
<rect x="884.4" y="708.1" width="221.9" height="63.6" rx="32" ry="21" fill="#bdbdbd" fill-opacity="0.93" stroke="#3c3c3c" stroke-width="1"/>
<text x="899.7" y="733.3" font-family='"Liberation Sans", sans-serif' font-size="17" font-style="normal" fill="#000" textLength="195.8" lengthAdjust="spacingAndGlyphs">46.63 m @ 1.08 g/t Au</text>
<text x="896.1" y="759.4" font-family='"Liberation Sans", sans-serif' font-size="13" font-style="italic" fill="#000" textLength="197.2" lengthAdjust="spacingAndGlyphs">incl. 15.24 m @ 2.03 g/t Au</text>
<rect x="242.2" y="650.3" width="231.8" height="59.0" rx="32" ry="22" fill="#bdbdbd" fill-opacity="0.93" stroke="#3c3c3c" stroke-width="1"/>
<text x="257" y="673.3" font-family='"Liberation Sans", sans-serif' font-size="17" font-style="normal" fill="#000" textLength="196.3" lengthAdjust="spacingAndGlyphs">21.60 m @ 1.40 g/t Au</text>
<text x="267.8" y="699" font-family='"Liberation Sans", sans-serif' font-size="13" font-style="italic" fill="#000" textLength="188.2" lengthAdjust="spacingAndGlyphs">incl. 3.00 m @ 2.80 g/t Au</text>
<rect x="59.4" y="763" width="232.3" height="99.0" rx="38" ry="34" fill="#bdbdbd" fill-opacity="0.93" stroke="#3c3c3c" stroke-width="1"/>
<text x="87.8" y="793.8" font-family='"Liberation Sans", sans-serif' font-size="17" font-style="normal" fill="#000" textLength="185.2" lengthAdjust="spacingAndGlyphs">5.74 m @ 3.72 g/t Au</text>
<text x="64" y="819.9" font-family='"Liberation Sans", sans-serif' font-size="17" font-style="normal" fill="#000" textLength="213.8" lengthAdjust="spacingAndGlyphs">&amp; 17.70 m @ 2.12 g/t Au</text>
<text x="84.2" y="846.4" font-family='"Liberation Sans", sans-serif' font-size="13" font-style="italic" fill="#000" textLength="188.8" lengthAdjust="spacingAndGlyphs">incl. 2.00 m @ 7.05 g/t Au</text>
<rect x="260.7" y="986.5" width="221.8" height="34.6" rx="26" ry="17.3" fill="#f352a8" stroke="#e04a9a" stroke-width="0.8"/>
<text x="282.6" y="1009.6" font-family='"Liberation Sans", sans-serif' font-size="17.5" textLength="177.5" lengthAdjust="spacingAndGlyphs">Mineralized Corridor</text>
<path d="M231.1,946.8 C234.5,947.7 244.5,948.6 251.7,952.4 C258.9,956.1 267.9,963.0 274.2,969.3 C280.4,975.5 284.9,983.3 289.2,989.9 C293.5,996.5 296.4,1000.9 300.0,1008.6 C303.6,1016.3 309.2,1031.4 311.0,1036.0" stroke="#1a1a1a" stroke-width="1.0" fill="none" />
<text x="1162.1" y="88.2" font-family='"Liberation Sans", sans-serif' font-size="32" font-weight="bold" fill="#ff0000" textLength="57.7" lengthAdjust="spacingAndGlyphs">OPEN</text>
<rect x="62.75" y="57.75" width="445.5" height="169" fill="#fff" stroke="#000" stroke-width="3.5"/>
<path d="M99.7,71.2 L112.3,71.2 L111,80.39999999999999 L101,80.39999999999999 Z" fill="#d4892a"/>
<path d="M88.7,80.2 L101.3,80.2 L100,89.39999999999999 L90,89.39999999999999 Z" fill="#d4892a"/>
<path d="M110.7,80.2 L123.3,80.2 L122,89.39999999999999 L112,89.39999999999999 Z" fill="#d4892a"/>
<path d="M77.7,89.30000000000001 L90.3,89.30000000000001 L89,98.5 L79,98.5 Z" fill="#d4892a"/>
<path d="M99.7,89.30000000000001 L112.3,89.30000000000001 L111,98.5 L101,98.5 Z" fill="#d4892a"/>
<path d="M121.7,89.30000000000001 L134.3,89.30000000000001 L133,98.5 L123,98.5 Z" fill="#d4892a"/>
<path d="M88.7,98.4 L101.3,98.4 L100,107.6 L90,107.6 Z" fill="#d4892a"/>
<path d="M110.7,98.4 L123.3,98.4 L122,107.6 L112,107.6 Z" fill="#d4892a"/>
<path d="M99.7,107.60000000000001 L112.3,107.60000000000001 L111,116.8 L101,116.8 Z" fill="#d4892a"/>
<text x="138.6" y="107" font-family='"Liberation Serif", serif' font-size="39" fill="#5c5c5c" stroke="#fff" stroke-width="0.45" textLength="119.5" lengthAdjust="spacingAndGlyphs">AVIDIAN</text>
<text x="86.8" y="161" font-family='"Liberation Sans", sans-serif' font-size="40" fill="#000" textLength="399" lengthAdjust="spacingAndGlyphs">Golden Zone Project</text>
<text x="86.8" y="190.4" font-family='"Liberation Sans", sans-serif' font-size="21.3" fill="#000" textLength="401" lengthAdjust="spacingAndGlyphs">Mayflower Extension Zone Northeast</text>
<text x="87.7" y="213.8" font-family='"Liberation Sans", sans-serif' font-size="16.5" font-style="italic" fill="#000" textLength="78" lengthAdjust="spacingAndGlyphs">Plan View</text>
<rect x="899" y="789" width="428.4" height="230.6" fill="#fff" stroke="#000" stroke-width="4"/>
<text x="919.5" y="811.2" font-family='"Liberation Sans", sans-serif' font-size="20" font-weight="bold" textLength="71.5" lengthAdjust="spacingAndGlyphs">Legend</text>
<text x="919.1" y="839.5" font-family='"Liberation Sans", sans-serif' font-size="14" textLength="65" lengthAdjust="spacingAndGlyphs">Gold (g/t)</text>
<text x="1057" y="839.5" font-family='"Liberation Sans", sans-serif' font-size="14" textLength="80" lengthAdjust="spacingAndGlyphs">Drill Collars</text>
<rect x="918.6" y="852.8" width="25" height="24.5" fill="#000" stroke="#444" stroke-width="0.8"/>
<text x="961" y="870.5" font-family='"Liberation Sans", sans-serif' font-size="15" textLength="42.5" lengthAdjust="spacingAndGlyphs">&lt; 0.25</text>
<rect x="918.6" y="883.4" width="25" height="24.5" fill="#55ff00" stroke="#444" stroke-width="0.8"/>
<text x="954" y="901.1" font-family='"Liberation Sans", sans-serif' font-size="15" textLength="82" lengthAdjust="spacingAndGlyphs">0.25 to 1.00</text>
<rect x="918.6" y="914.0" width="25" height="24.5" fill="#ff0000" stroke="#444" stroke-width="0.8"/>
<text x="954" y="931.7" font-family='"Liberation Sans", sans-serif' font-size="15" textLength="82" lengthAdjust="spacingAndGlyphs">1.00 to 5.00</text>
<rect x="918.6" y="944.6" width="25" height="24.5" fill="#dd00ff" stroke="#444" stroke-width="0.8"/>
<text x="954" y="962.3" font-family='"Liberation Sans", sans-serif' font-size="15" textLength="43" lengthAdjust="spacingAndGlyphs">&gt; 5.00</text>
<circle cx="1069" cy="865" r="7.8" fill="#7d0000"/>
<circle cx="1069.3" cy="895.9" r="5.2" fill="#000"/>
<circle cx="1069.3" cy="926.7" r="5.2" fill="#888"/>
<text x="1091.7" y="870.5" font-family='"Liberation Sans", sans-serif' font-size="15" textLength="176" lengthAdjust="spacingAndGlyphs">2021 RC Drill Hole Collar</text>
<text x="1091.7" y="901" font-family='"Liberation Sans", sans-serif' font-size="15" textLength="165.5" lengthAdjust="spacingAndGlyphs">Avidian Drill Hole Collar</text>
<text x="1091.7" y="931.7" font-family='"Liberation Sans", sans-serif' font-size="15" textLength="166.5" lengthAdjust="spacingAndGlyphs">Historic Drill Hole Collar</text>
<text x="1045.6" y="961" font-family='"Liberation Sans", sans-serif' font-size="12" font-weight="bold">0</text>
<text x="1241.8" y="961" font-family='"Liberation Sans", sans-serif' font-size="12" font-weight="bold" textLength="27" lengthAdjust="spacingAndGlyphs">50m</text>
<rect x="1049" y="968" width="207" height="7.5" fill="#000"/>
<path d="M1049.5,965 V969 M1255.5,965 V969" stroke="#000" stroke-width="1"/>
<text x="1061.2" y="999.5" font-family='"Liberation Sans", sans-serif' font-size="11" textLength="178" lengthAdjust="spacingAndGlyphs">Elevation Contour Interval: 10 meters</text>
<text x="1300.2" y="958" font-family='"Liberation Sans", sans-serif' font-size="11" font-weight="bold" text-anchor="middle">N</text>
<path d="M1300.2,961.6 L1288.2,1004.4 L1300.2,990.8 Z" fill="#fff" stroke="#000" stroke-width="1.5" stroke-linejoin="miter"/>
<path d="M1300.2,961.6 L1312,1004.4 L1300.2,990.8 Z" fill="#000" stroke="#000" stroke-width="1.5"/>
</g>
<rect x="42.5" y="38.5" width="1302.5" height="996" fill="none" stroke="#000" stroke-width="5"/>
<path d="M1068.3,41.3 L1057.5,69.1 Q1055.5,62.8 1052.4,59.3 Q1048.5,56.7 1042.0,55.5 Z" fill="#0000d4"/>
<path d="M191.9,1033.1 L202.7,1005.3 Q204.7,1011.6 207.8,1015.1 Q211.7,1017.7 218.2,1018.9 Z" fill="#0000d4"/>
<path d="M1333.8,153.2 L1324.4,177.9 Q1322.5,172.3 1319.7,169.2 Q1316.3,166.9 1310.5,165.8 Z" fill="#0000d4"/>
<path d="M560.6,1035.0 L570.0,1010.3 Q571.9,1015.9 574.7,1019.0 Q578.1,1021.3 583.9,1022.4 Z" fill="#0000d4"/>
<text x="254.5" y="1053.5" font-family='"Liberation Sans", sans-serif' font-size="13" fill="#7a7a7a" font-weight="normal" font-style="italic" text-anchor="middle" textLength="66" lengthAdjust="spacingAndGlyphs" >366900mE</text>
<text x="667.5" y="1053.5" font-family='"Liberation Sans", sans-serif' font-size="13" fill="#7a7a7a" font-weight="normal" font-style="italic" text-anchor="middle" textLength="66" lengthAdjust="spacingAndGlyphs" >367000mE</text>
<text x="1080.5" y="1053.5" font-family='"Liberation Sans", sans-serif' font-size="13" fill="#7a7a7a" font-weight="normal" font-style="italic" text-anchor="middle" textLength="66" lengthAdjust="spacingAndGlyphs" >367100mE</text>
<text x="32.8" y="102" font-family='"Liberation Sans", sans-serif' font-size="13.8" fill="#7a7a7a" font-weight="normal" font-style="italic" text-anchor="middle" textLength="75" lengthAdjust="spacingAndGlyphs" transform="rotate(-90 32.8 102)" >7012700mN</text>
<text x="1363.8" y="102" font-family='"Liberation Sans", sans-serif' font-size="13.8" fill="#7a7a7a" font-weight="normal" font-style="italic" text-anchor="middle" textLength="75" lengthAdjust="spacingAndGlyphs" transform="rotate(-90 1363.8 102)" >7012700mN</text>
<text x="32.8" y="515" font-family='"Liberation Sans", sans-serif' font-size="13.8" fill="#7a7a7a" font-weight="normal" font-style="italic" text-anchor="middle" textLength="75" lengthAdjust="spacingAndGlyphs" transform="rotate(-90 32.8 515)" >7012600mN</text>
<text x="1363.8" y="515" font-family='"Liberation Sans", sans-serif' font-size="13.8" fill="#7a7a7a" font-weight="normal" font-style="italic" text-anchor="middle" textLength="75" lengthAdjust="spacingAndGlyphs" transform="rotate(-90 1363.8 515)" >7012600mN</text>
<text x="32.8" y="926" font-family='"Liberation Sans", sans-serif' font-size="13.8" fill="#7a7a7a" font-weight="normal" font-style="italic" text-anchor="middle" textLength="75" lengthAdjust="spacingAndGlyphs" transform="rotate(-90 32.8 926)" >7012500mN</text>
<text x="1363.8" y="926" font-family='"Liberation Sans", sans-serif' font-size="13.8" fill="#7a7a7a" font-weight="normal" font-style="italic" text-anchor="middle" textLength="75" lengthAdjust="spacingAndGlyphs" transform="rotate(-90 1363.8 926)" >7012500mN</text>
</svg></body></html>
